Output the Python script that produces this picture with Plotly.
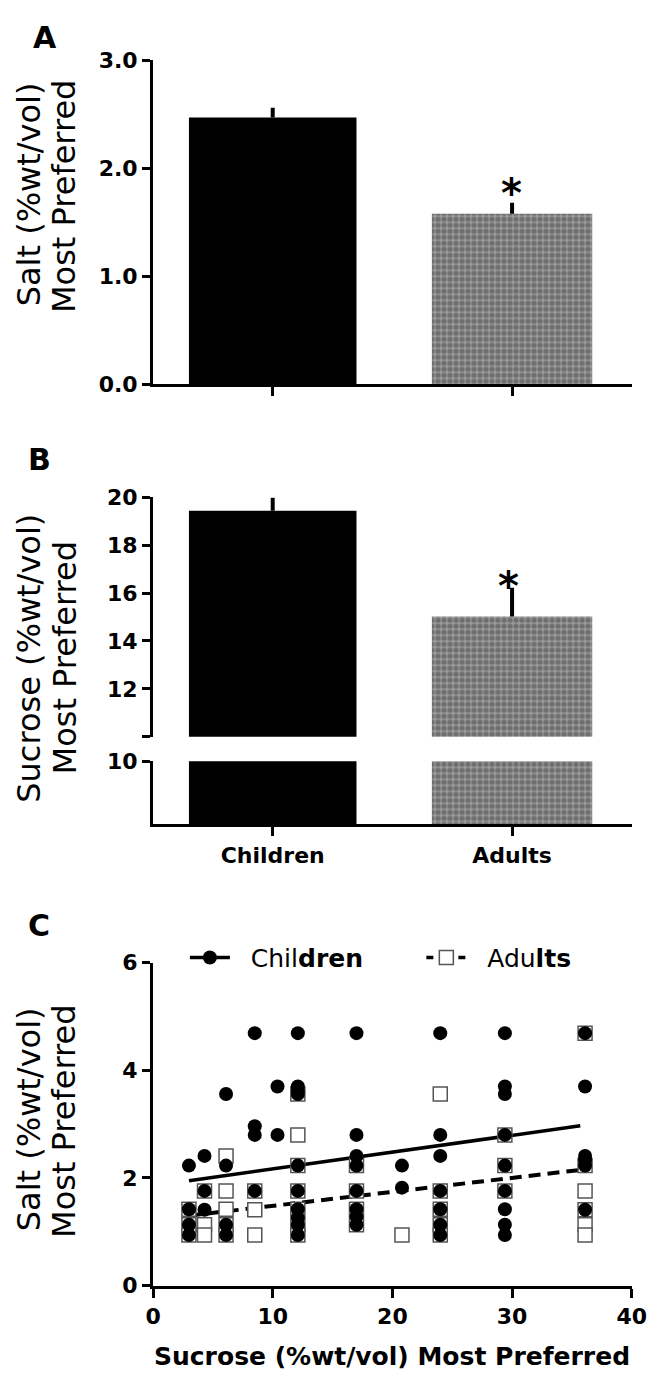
import plotly.graph_objects as go

# page size is 667x1389; the html body keeps its default 8px margin,
# so the figure is made 8px smaller and positions are given in page pixels.
PAGE_OFF = 8
W, H = 667 - PAGE_OFF, 1389 - PAGE_OFF
FONT = "DejaVu Sans"

# ---------------- data ----------------
categories = ["Children", "Adults"]
salt_mean = [2.47, 1.58]
salt_sem = [0.09, 0.10]
sucrose_mean = [19.43, 15.02]
sucrose_sem = [0.55, 1.20]

salt_ticks = [0, 1, 2, 3]
sucrose_upper_ticks = [10, 12, 14, 16, 18, 20]
sucrose_upper_text = ["", "12", "14", "16", "18", "20"]
sucrose_lower_ticks = [10]
sucrose_lower_text = ["10"]
scatter_x_ticks = [0, 10, 20, 30, 40]
scatter_y_ticks = [0, 2, 4, 6]

children_sucrose = [3.0, 3.0, 3.0, 3.0,
                    4.3, 4.3, 4.3,
                    6.1, 6.1, 6.1, 6.1,
                    8.5, 8.5, 8.5, 8.5,
                    10.4, 10.4,
                    12.1, 12.1, 12.1, 12.1, 12.1, 12.1, 12.1, 12.1, 12.1, 12.1,
                    17.0, 17.0, 17.0, 17.0, 17.0, 17.0, 17.0, 17.0,
                    20.8, 20.8,
                    24.0, 24.0, 24.0, 24.0, 24.0, 24.0, 24.0,
                    29.4, 29.4, 29.4, 29.4, 29.4, 29.4, 29.4, 29.4, 29.4,
                    36.1, 36.1, 36.1, 36.1, 36.1, 36.1]
children_salt = [2.23, 1.42, 1.13, 0.94,
                 2.41, 1.76, 1.41,
                 3.56, 2.23, 1.13, 0.94,
                 4.69, 2.96, 2.80, 1.76,
                 3.70, 2.80,
                 4.69, 3.70, 3.62, 3.56, 2.23, 1.76, 1.42, 1.26, 1.13, 0.94,
                 4.69, 2.80, 2.41, 2.23, 1.76, 1.42, 1.28, 1.13,
                 2.23, 1.82,
                 4.69, 2.80, 2.41, 1.76, 1.42, 1.13, 0.94,
                 4.69, 3.70, 3.56, 2.80, 2.23, 1.76, 1.42, 1.13, 0.94,
                 4.69, 3.70, 2.41, 2.33, 2.23, 1.41]

adults_sucrose = [3.0, 3.0, 3.0,
                  4.3, 4.3, 4.3,
                  6.1, 6.1, 6.1, 6.1, 6.1,
                  8.5, 8.5, 8.5,
                  12.1, 12.1, 12.1, 12.1, 12.1, 12.1, 12.1,
                  17.0, 17.0, 17.0, 17.0,
                  20.8,
                  24.0, 24.0, 24.0, 24.0, 24.0,
                  29.4, 29.4, 29.4,
                  36.1, 36.1, 36.1, 36.1, 36.1, 36.1]
adults_salt = [1.42, 1.13, 0.94,
               1.76, 1.13, 0.94,
               2.41, 1.76, 1.42, 1.13, 0.94,
               1.76, 1.41, 0.94,
               3.56, 2.80, 2.23, 1.76, 1.42, 1.13, 0.94,
               2.23, 1.76, 1.42, 1.13,
               0.94,
               3.56, 1.76, 1.42, 1.13, 0.94,
               2.80, 2.23, 1.76,
               4.69, 2.23, 1.76, 1.41, 1.13, 0.94]

children_fit_x = [3.0, 35.7]
children_fit_y = [1.95, 2.97]
adults_fit_x = [3.0, 35.7]
adults_fit_y = [1.30, 2.15]

# ---------------- helpers ----------------
def px(x):
    return (x - PAGE_OFF) / W

def py(y):
    return 1 - (y - PAGE_OFF) / H

BAR_COLORS = ["#000000", "#9a9a9a"]
BAR_WIDTHS = [0.70, 0.67]
BAR_PATTERN = dict(shape=["", "."], fgcolor="#000000", size=6, solidity=0.6, fillmode="overlay")

fig = go.Figure()

# Panel A
fig.add_trace(go.Bar(
    x=categories, y=salt_mean, width=BAR_WIDTHS,
    marker=dict(color=BAR_COLORS, pattern=BAR_PATTERN, line=dict(width=0)),
    error_y=dict(type="data", array=salt_sem, arrayminus=[0, 0], symmetric=False,
                 color="black", thickness=4, width=0),
    xaxis="x", yaxis="y", showlegend=False))

# Panel B upper
fig.add_trace(go.Bar(
    x=categories, y=sucrose_mean, width=BAR_WIDTHS,
    marker=dict(color=BAR_COLORS, pattern=BAR_PATTERN, line=dict(width=0)),
    error_y=dict(type="data", array=sucrose_sem, arrayminus=[0, 0], symmetric=False,
                 color="black", thickness=4, width=0),
    xaxis="x2", yaxis="y2", showlegend=False, cliponaxis=True))

# Panel B lower
fig.add_trace(go.Bar(
    x=categories, y=sucrose_mean, width=BAR_WIDTHS,
    marker=dict(color=BAR_COLORS, pattern=BAR_PATTERN, line=dict(width=0)),
    xaxis="x3", yaxis="y3", showlegend=False, cliponaxis=True))

# Panel C: fit lines
fig.add_trace(go.Scatter(x=children_fit_x, y=children_fit_y, mode="lines",
                         line=dict(color="black", width=3.5),
                         xaxis="x4", yaxis="y4", showlegend=False))
fig.add_trace(go.Scatter(x=adults_fit_x, y=adults_fit_y, mode="lines",
                         line=dict(color="black", width=4, dash="12px,7px"),
                         xaxis="x4", yaxis="y4", showlegend=False))
# Panel C: points
fig.add_trace(go.Scatter(x=adults_sucrose, y=adults_salt, mode="markers",
                         marker=dict(symbol="square", size=14, color="white",
                                     line=dict(color="#555555", width=1.5)),
                         xaxis="x4", yaxis="y4", showlegend=False))
fig.add_trace(go.Scatter(x=children_sucrose, y=children_salt, mode="markers",
                         marker=dict(symbol="circle", size=14, color="black", line=dict(width=0)),
                         xaxis="x4", yaxis="y4", showlegend=False))
# legend entries (one legend box each)
fig.add_trace(go.Scatter(x=[None], y=[None], mode="lines+markers", name="  Chil<b>dren</b>",
                         line=dict(color="black", width=3.5),
                         marker=dict(symbol="circle", size=14, color="black"),
                         xaxis="x4", yaxis="y4", legend="legend"))
fig.add_trace(go.Scatter(x=[None], y=[None], mode="lines+markers", name="  Adu<b>lts</b>",
                         line=dict(color="black", width=3.5, dash="7px,9px"),
                         marker=dict(symbol="square", size=14, color="white",
                                     line=dict(color="#555555", width=1.5)),
                         xaxis="x4", yaxis="y4", legend="legend2"))

tickfont = dict(family=FONT, size=22, color="black", weight="bold")
axis_common = dict(showline=True, linecolor="black", linewidth=3, ticks="outside",
                   tickwidth=3, tickcolor="black", showgrid=False, zeroline=False,
                   tickfont=tickfont, fixedrange=True)

x_dom = [px(150), px(646)]
legend_common = dict(orientation="h", xanchor="left", y=py(963), yanchor="middle",
                     font=dict(family=FONT, size=25, color="black"), itemwidth=40,
                     bgcolor="rgba(0,0,0,0)", borderwidth=0)

fig.update_layout(
    width=W, height=H, margin=dict(l=0, r=0, t=0, b=0),
    paper_bgcolor="white", plot_bgcolor="white",
    barmode="overlay",
    xaxis=dict(axis_common, domain=x_dom, anchor="y", type="category",
               range=[-0.5, 1.5], showticklabels=False, ticklen=9),
    yaxis=dict(axis_common, domain=[py(379), py(49)], anchor="x", range=[0, 3],
               tickvals=salt_ticks, tickformat=".1f", ticklen=8),
    xaxis2=dict(domain=x_dom, anchor="y2", type="category", range=[-0.5, 1.5],
                visible=False, fixedrange=True),
    yaxis2=dict(axis_common, domain=[py(738), py(494)], anchor="x2", range=[10, 20],
                tickvals=sucrose_upper_ticks, ticktext=sucrose_upper_text, ticklen=8),
    xaxis3=dict(axis_common, domain=x_dom, anchor="y3", type="category",
                range=[-0.5, 1.5], ticklen=9),
    yaxis3=dict(axis_common, domain=[py(827), py(763)], anchor="x3", range=[0, 10],
                tickvals=sucrose_lower_ticks, ticktext=sucrose_lower_text, ticklen=8),
    xaxis4=dict(axis_common, domain=x_dom, anchor="y4", range=[0, 40],
                tickvals=scatter_x_ticks, ticklen=9),
    yaxis4=dict(axis_common, domain=[py(1297), py(968)], anchor="x4", range=[0, 6],
                tickvals=scatter_y_ticks, ticklen=8),
    legend=dict(legend_common, x=px(183)),
    legend2=dict(legend_common, x=px(428)),
)

annots = []
def add_text(text, x, y, size, bold=False, angle=0):
    annots.append(dict(text=text, x=px(x), y=py(y), xref="paper", yref="paper",
                       xanchor="center", yanchor="middle", showarrow=False,
                       textangle=angle, align="center",
                       font=dict(family=FONT, size=size, color="black",
                                 weight="bold" if bold else "normal")))

add_text("A", 38, 26, 30, bold=True)
add_text("B", 32, 456, 30, bold=True)
add_text("C", 32, 930, 30, bold=True)
# y titles, one annotation per line
add_text("Salt (%wt/vol)", 21, 186, 32, angle=-90)
add_text("Most Preferred", 57, 188, 32, angle=-90)
add_text("Sucrose (%wt/vol)", 22, 658, 32, angle=-90)
add_text("Most Preferred", 59, 658, 32, angle=-90)
add_text("Salt (%wt/vol)", 21, 1128, 32, angle=-90)
add_text("Most Preferred", 57, 1130, 32, angle=-90)
add_text("Sucrose (%wt/vol) Most Preferred", 398, 1369, 25, bold=True)
add_text("*", 521, 184, 40, bold=True)
add_text("*", 518, 584, 40, bold=True)
fig.update_layout(annotations=annots)

fig.write_html("out.html", config={"displayModeBar": False})
